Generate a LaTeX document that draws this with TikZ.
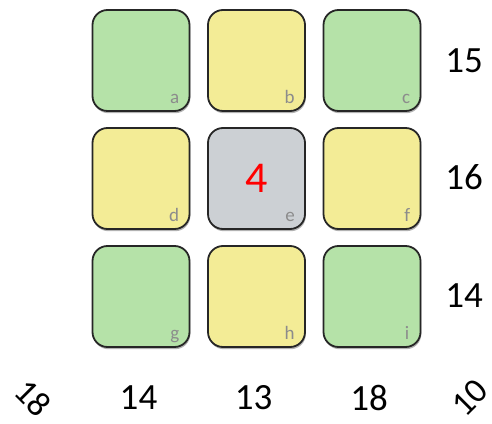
\documentclass[tikz,border=0pt]{standalone}
\usepackage{fontspec}
\setmainfont{Carlito}
\usepackage{tikz}
\usetikzlibrary{shadows}
\definecolor{cellgreen}{RGB}{181,226,168}
\definecolor{cellyellow}{RGB}{243,236,150}
\definecolor{cellgray}{RGB}{204,208,212}
\definecolor{celledge}{RGB}{38,38,38}
\definecolor{taggray}{RGB}{140,140,140}

\begin{document}
\begin{tikzpicture}[x=1pt, y=1pt,
      cell/.style={draw=celledge, line width=1.8pt, rounded corners=15pt, minimum width=97pt, minimum height=101pt, inner sep=0pt,
        drop shadow={shadow xshift=0.8pt, shadow yshift=-2.2pt, opacity=0.3, fill=black}},
      tag/.style={anchor=base east, inner sep=0pt, text=taggray, font=\fontsize{19}{19}\selectfont},
      sum/.style={inner sep=0pt, font=\fontsize{37}{40}\selectfont}
    ]
      \useasboundingbox (0,0) rectangle (492,423);

      % Row 1
      \node[cell, fill=cellgreen] (a) at (141, 362.5) {};
      \node[cell, fill=cellyellow] (b) at (256.5, 362.5) {};
      \node[cell, fill=cellgreen] (c) at (372, 362.5) {};

      % Row 2
      \node[cell, fill=cellyellow] (d) at (141, 244.5) {};
      \node[cell, fill=cellgray, text=red, font=\fontsize{44}{46}\selectfont] (e) at (256.5, 244.5) {4};
      \node[cell, fill=cellyellow] (f) at (372, 244.5) {};

      % Row 3
      \node[cell, fill=cellgreen] (g) at (141, 126.5) {};
      \node[cell, fill=cellyellow] (h) at (256.5, 126.5) {};
      \node[cell, fill=cellgreen] (i) at (372, 126.5) {};

      % Letters
      \node[tag] (ta) at ([xshift=-11pt, yshift=8pt]a.south east) {a};
      \node[tag] (tb) at ([xshift=-11pt, yshift=8pt]b.south east) {b};
      \node[tag] (tc) at ([xshift=-11pt, yshift=8pt]c.south east) {c};
      \node[tag] (td) at ([xshift=-11pt, yshift=8pt]d.south east) {d};
      \node[tag] (te) at ([xshift=-11pt, yshift=8pt]e.south east) {e};
      \node[tag] (tf) at ([xshift=-11pt, yshift=8pt]f.south east) {f};
      \node[tag] (tg) at ([xshift=-11pt, yshift=8pt]g.south east) {g};
      \node[tag] (th) at ([xshift=-11pt, yshift=8pt]h.south east) {h};
      \node[tag] (ti) at ([xshift=-12pt, yshift=8pt]i.south east) {i};

      % Row sums
      \node[sum] (r1) at (464, 362.5) {15};
      \node[sum] (r2) at (464, 245.5) {16};
      \node[sum] (r3) at (464, 127) {14};

      % Column and diagonal sums
      \node[sum, rotate=-45, font=\fontsize{35}{38}\selectfont] (d1) at (33, 25) {18};
      \node[sum] (c1) at (138.5, 25) {14};
      \node[sum] (c2) at (253.5, 25) {13};
      \node[sum] (c3) at (369, 25) {18};
      \node[sum, rotate=45, font=\fontsize{35}{38}\selectfont] (d2) at (470, 25) {10};
    \end{tikzpicture}
\end{document}
